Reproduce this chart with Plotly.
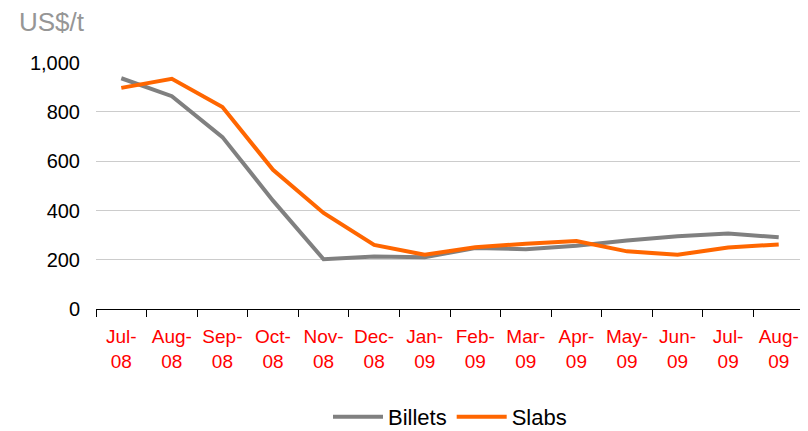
import plotly.graph_objects as go

months = ["Jul-<br>08", "Aug-<br>08", "Sep-<br>08", "Oct-<br>08", "Nov-<br>08", "Dec-<br>08",
          "Jan-<br>09", "Feb-<br>09", "Mar-<br>09", "Apr-<br>09", "May-<br>09", "Jun-<br>09",
          "Jul-<br>09", "Aug-<br>09"]
billets = [937, 864, 698, 440, 202, 213, 210, 248, 243, 257, 278, 295, 307, 291]
slabs = [898, 935, 820, 565, 390, 260, 220, 251, 265, 276, 234, 220, 250, 262]
y_ticks = [0, 200, 400, 600, 800, 1000]
y_labels = ["0", "200", "400", "600", "800", "1,000"]

fig = go.Figure()
fig.add_trace(go.Scatter(x=months, y=billets, name="Billets", mode="lines",
                         line=dict(color="#808080", width=4)))
fig.add_trace(go.Scatter(x=months, y=slabs, name="Slabs", mode="lines",
                         line=dict(color="#FF6600", width=4)))

fig.update_layout(
    width=800, height=423,
    margin=dict(l=88, r=4, t=54, b=122, autoexpand=False),
    paper_bgcolor="white", plot_bgcolor="white",
    font=dict(family="Liberation Sans, Arial, sans-serif", color="black"),
    showlegend=True,
    legend=dict(orientation="h", x=0.5, xanchor="center", y=-0.437, yanchor="middle",
                font=dict(size=22, color="black"), itemwidth=50, tracegroupgap=0),
    annotations=[dict(text="US$/t", xref="paper", yref="paper", x=-0.11, y=1.16,
                      xanchor="left", yanchor="middle", showarrow=False, borderpad=0,
                      font=dict(size=26, color="#969696"))],
)
fig.update_xaxes(
    type="category", range=[-0.5, 13.5], showgrid=False, showline=True,
    linecolor="black", linewidth=1, automargin=False,
    ticks="outside", tickson="boundaries", ticklen=7, tickcolor="black",
    tickfont=dict(size=19, color="#FF0000"), tickangle=0, ticklabelstandoff=10,
)
fig.update_yaxes(
    range=[0, 1003], tickvals=y_ticks, ticktext=y_labels, automargin=False,
    showgrid=True, gridcolor="#cccccc", gridwidth=1, zeroline=False, showline=False,
    tickfont=dict(size=20, color="black"), ticks="", ticklabelstandoff=15,
)

fig.write_html("out.html")
